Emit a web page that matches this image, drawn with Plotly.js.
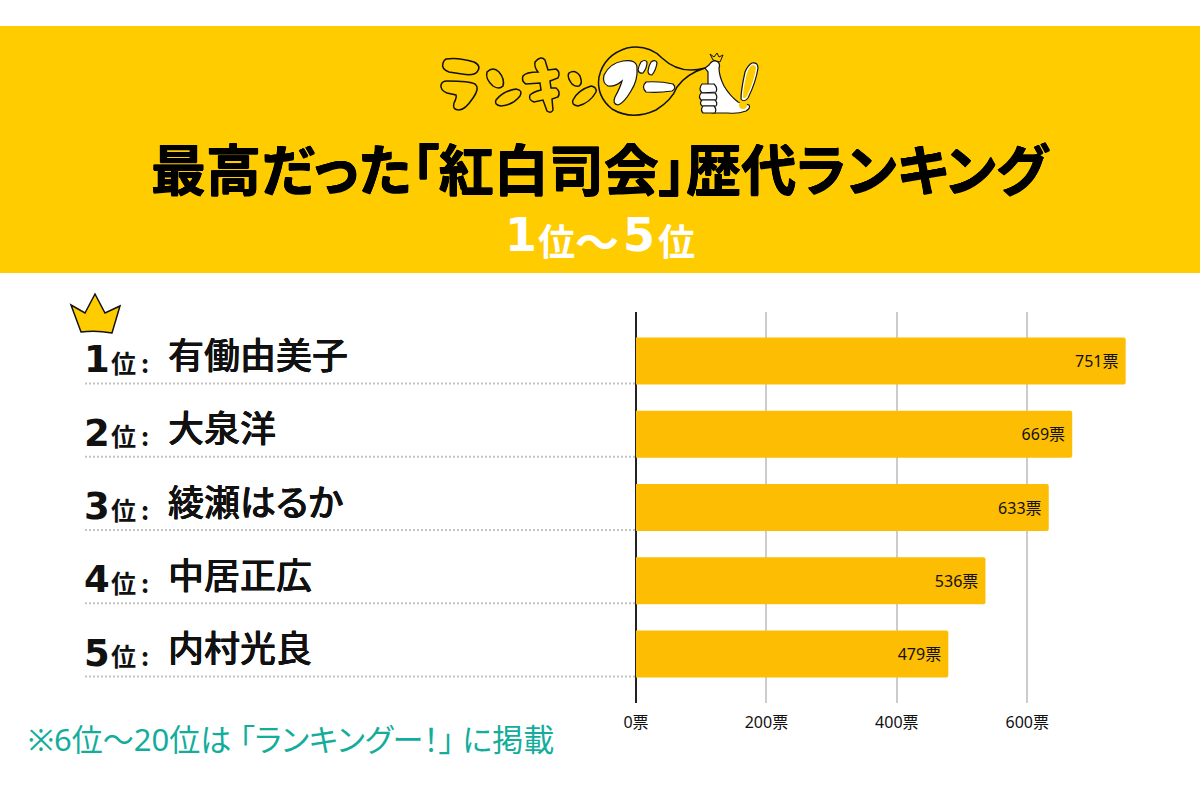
<!DOCTYPE html>
<html>
<head>
<meta charset="utf-8">
<script src="https://cdn.plot.ly/plotly-3.0.1.min.js"></script>
<style>
body{margin:0;background:#fff}
/* proportional kana and narrow brackets, as in the original artwork */
svg text{font-feature-settings:"palt" 1}
</style>
</head>
<body>
<div id="chart" style="width:1200px;height:800px"></div>
<script>
// Chart values
const RANKS = ['1', '2', '3', '4', '5'];
const NAMES = ['有働由美子', '大泉洋', '綾瀬はるか', '中居正広', '内村光良'];
const VOTES = [751, 669, 633, 536, 479];
const TICK_VALUES = [0, 200, 400, 600];

const TITLE = '最高だった「紅白司会」歴代ランキング';
const FOOTNOTE = '※6位〜20位は 「ランキングー！」 に掲載';

const FONT = '"Noto Sans CJK JP", "Noto Sans", sans-serif';
const LATIN_FONT = '"Noto Sans", "Noto Sans CJK JP", sans-serif';
const DIGIT_FONT = '"DejaVu Sans", ' + FONT;
const YELLOW = '#ffcc00';
const BAR_COLOR = '#fdbd02';
const TEAL = '#14ad9c';
const INK = '#111111';
const HEAVY = '0.5px 0 0 #000, -0.5px 0 0 #000, 0 0.5px 0 #000, 0 -0.5px 0 #000';
const MEDIUM = '0.3px 0 0 #111, -0.3px 0 0 #111';

// Page layout in pixels
const WIDTH = 1200;
const HEIGHT = 800;
const ROW_TOP = 361;
const ROW_STEP = 73.25;

const px = x => x / WIDTH;
const py = y => 1 - y / HEIGHT;

// Path written in page pixels, converted to paper coordinates
function pagePath(path) {
  return path.replace(/(-?[\d.]+) (-?[\d.]+)/g, (m, x, y) => `${px(+x)} ${py(+y)}`);
}

function outline(path, fill, width = 1.5) {
  return {
    type: 'path', xref: 'paper', yref: 'paper', path: pagePath(path),
    fillcolor: fill, line: {color: INK, width: width}
  };
}

function plain(path, fill) {
  return {
    type: 'path', xref: 'paper', yref: 'paper', path: pagePath(path),
    fillcolor: fill, line: {width: 0}
  };
}

function label(text, x, y, size, options = {}) {
  return Object.assign({
    text: text, xref: 'paper', yref: 'paper', x: px(x), y: py(y),
    xanchor: 'left', yanchor: 'middle', showarrow: false,
    font: {family: FONT, size: size, color: INK, weight: 700}
  }, options);
}

function whitePiece(text, x, y, size, family) {
  return label(text, x, y, size, {font: {family: family, size: size, color: '#ffffff', weight: 700}});
}

// Logo drawing
const LOGO_PATHS = [
  // ラ
  'M 446 59 Q 458 57 474 62 Q 482 66 477 72 Q 474 76 462 74 L 449 72 Q 441 69 443 63 Q 444 60 446 59 Z',
  'M 447 81 Q 470 81 475 84 Q 480 88 473 98 Q 465 110 459 110 Q 452 110 454 103 Q 457 97 456 95 L 447 93 Q 440 90 441 85 Q 442 81 447 81 Z',
  // ン
  'M 487 72 Q 493 66 499 72 Q 505 79 503 86 Q 499 90 493 86 Q 485 79 487 72 Z',
  'M 496 100 Q 503 91 516 89 Q 523 90 520 96 Q 513 105 501 106 Q 494 105 496 100 Z',
  // キ
  'M 535 62 Q 541 55 545 60 L 548 70 L 556 69 Q 561 72 558 78 L 550 81 L 551 88 L 556 88 Q 561 92 558 97 L 552 99 L 553 110 Q 551 114 547 111 L 543 100 L 534 102 Q 528 100 530 95 Q 533 92 541 90 L 540 83 L 526 84 Q 521 81 523 76 Q 526 72 538 72 Q 534 67 535 62 Z',
  // ン
  'M 569 73 Q 575 69 580 76 Q 583 84 579 86 Q 573 87 570 81 Q 567 76 569 73 Z',
  'M 573 100 Q 578 90 591 86 Q 597 87 596 92 Q 590 103 578 106 Q 571 105 573 100 Z',
  // Speech bubble
  'M 705 68 Q 686 74 677 87 Q 672 100 656 110 Q 632 121 612 109 Q 596 96 599 77 Q 604 55 627 48 Q 648 44 662 58 Q 680 75 705 68 Z'
];
const LOGO_WHITE_PATHS = [
  // グ
  'M 604 75 Q 610 63 623 61 Q 637 59 637 68 Q 638 80 631 91 Q 624 103 618 105 Q 612 104 615 97 Q 620 88 622 81 Q 615 87 608 86 Q 602 83 604 75 Z',
  'M 641 62 Q 645 59 647 62 Q 647 68 643 73 Q 639 74 638 70 Q 639 65 641 62 Z',
  'M 651 62 Q 656 59 657 63 Q 656 70 652 75 Q 648 75 648 71 Q 649 65 651 62 Z',
  // ー
  'M 646 82 Q 660 81 673 84 Q 677 88 672 91 Q 658 93 646 92 Q 641 87 646 82 Z',
  // Exclamation mark
  'M 752 63 Q 758 62 758 68 Q 756 82 748 98 Q 744 103 741 99 Q 741 90 745 72 Q 748 65 752 63 Z',
  // Chicken body and thumb
  'M 705 68 L 709 65 Q 712 60 716 61 Q 721 63 719 68 Q 719 76 724 86 Q 730 96 738 102 Q 745 104 749 105 Q 751 108 746 111 Q 738 114 728 113 L 712 113 L 708 88 Q 708 80 708 72 Z',
  // Fingers
  'M 702 84 L 714 84 Q 718 88 716 92 L 702 93 Q 698 89 702 84 Z',
  'M 701 93 L 715 93 Q 718 96 716 100 L 701 100 Q 698 97 701 93 Z',
  'M 702 100 L 715 100 Q 718 103 716 106 L 702 106 Q 699 103 702 100 Z',
  'M 703 106 L 714 106 Q 717 109 715 113 L 703 113 Q 700 110 703 106 Z'
];
// Inner yellow of the exclamation mark and its dot
const LOGO_YELLOW_FILLS = [
  'M 752 65 Q 756 65 756 68 Q 754 82 747 96 Q 744 100 743 97 Q 743 88 747 73 Q 749 67 752 65 Z',
  'M 743 101 Q 747 101 747 105 Q 747 109 743 109 Q 739 109 739 105 Q 739 101 743 101 Z'
];
const LOGO_CROWN_PATH = 'M 710 54 L 714 57 L 717 53 L 719 57 L 723 55 L 720 62 L 713 60 Z';

const CROWN_PATH = 'M 71 305 L 85 313 L 95 294 L 105 313 L 120 306 L 112 333 Q 96 330 81 332 Z';

// Shapes
const shapes = [{
  type: 'rect', xref: 'paper', yref: 'paper',
  x0: 0, x1: 1, y0: py(26), y1: py(273),
  fillcolor: YELLOW, line: {width: 0}, layer: 'below'
}];
LOGO_PATHS.forEach(p => shapes.push(outline(p, YELLOW)));
LOGO_WHITE_PATHS.forEach(p => shapes.push(outline(p, '#ffffff', 1.2)));
LOGO_YELLOW_FILLS.forEach(p => shapes.push(plain(p, YELLOW)));
shapes.push(outline(LOGO_CROWN_PATH, YELLOW, 1));
shapes.push(outline(CROWN_PATH, YELLOW, 1.5));

RANKS.forEach((rank, i) => {
  const y = ROW_TOP + ROW_STEP * i + 22.5;
  shapes.push({
    type: 'line', xref: 'paper', yref: 'paper',
    x0: px(85), x1: px(636), y0: py(y), y1: py(y),
    line: {color: '#c4c4c4', width: 2, dash: '2px,2px'}
  });
});

const annotations = [
  label(TITLE, 600, 166, 55, {xanchor: 'center', font: {family: FONT, size: 55, color: '#000000', weight: 700, shadow: HEAVY}}),
  whitePiece('1', 503, 235, 46, DIGIT_FONT),
  whitePiece('位', 536, 240, 37, FONT),
  whitePiece('〜', 573, 240, 44, FONT),
  whitePiece('5', 621, 235, 46, DIGIT_FONT),
  whitePiece('位', 656, 240, 37, FONT),
  label(FOOTNOTE, 26, 739, 31, {font: {family: LATIN_FONT, size: 31, color: TEAL, weight: 400}})
];

RANKS.forEach((rank, i) => {
  const y = ROW_TOP + ROW_STEP * i;
  annotations.push(label(rank, 97, y - 1, 37, {xanchor: 'center', font: {family: DIGIT_FONT, size: 37, color: INK, weight: 700}}));
  annotations.push(label('位', 109, y + 1, 25));
  annotations.push(label(':', 139, y + 1, 25));
  annotations.push(label(NAMES[i], 166, y - 8, 36, {font: {family: FONT, size: 36, color: INK, weight: 500, shadow: MEDIUM}}));
});

const trace = {
  type: 'bar',
  orientation: 'h',
  x: VOTES,
  y: RANKS.map((rank, i) => i),
  marker: {color: BAR_COLOR, line: {width: 0}, cornerradius: 2},
  texttemplate: '%{x}票\u00a0',
  textposition: 'inside',
  insidetextanchor: 'end',
  textangle: 0,
  constraintext: 'none',
  textfont: {family: LATIN_FONT, size: 16, color: INK},
  hoverinfo: 'skip'
};

const layout = {
  width: WIDTH,
  height: HEIGHT,
  margin: {l: 0, r: 0, t: 0, b: 0},
  paper_bgcolor: '#ffffff',
  plot_bgcolor: 'rgba(0,0,0,0)',
  showlegend: false,
  bargap: 0.358,
  xaxis: {
    domain: [px(636), px(1126)],
    range: [0, 751.5],
    tickvals: TICK_VALUES,
    ticktext: TICK_VALUES.map(v => v + '票'),
    tickfont: {family: LATIN_FONT, size: 16, color: INK},
    ticklabelstandoff: 8,
    gridcolor: '#cccccc',
    gridwidth: 2,
    zeroline: true,
    zerolinecolor: '#222222',
    zerolinewidth: 2,
    showline: false
  },
  yaxis: {
    domain: [py(703), py(312)],
    range: [4.669, -0.669],
    visible: false,
    zeroline: false,
    showgrid: false
  },
  shapes: shapes,
  annotations: annotations
};

Plotly.newPlot('chart', [trace], layout, {displayModeBar: false, staticPlot: true});
</script>
</body>
</html>
